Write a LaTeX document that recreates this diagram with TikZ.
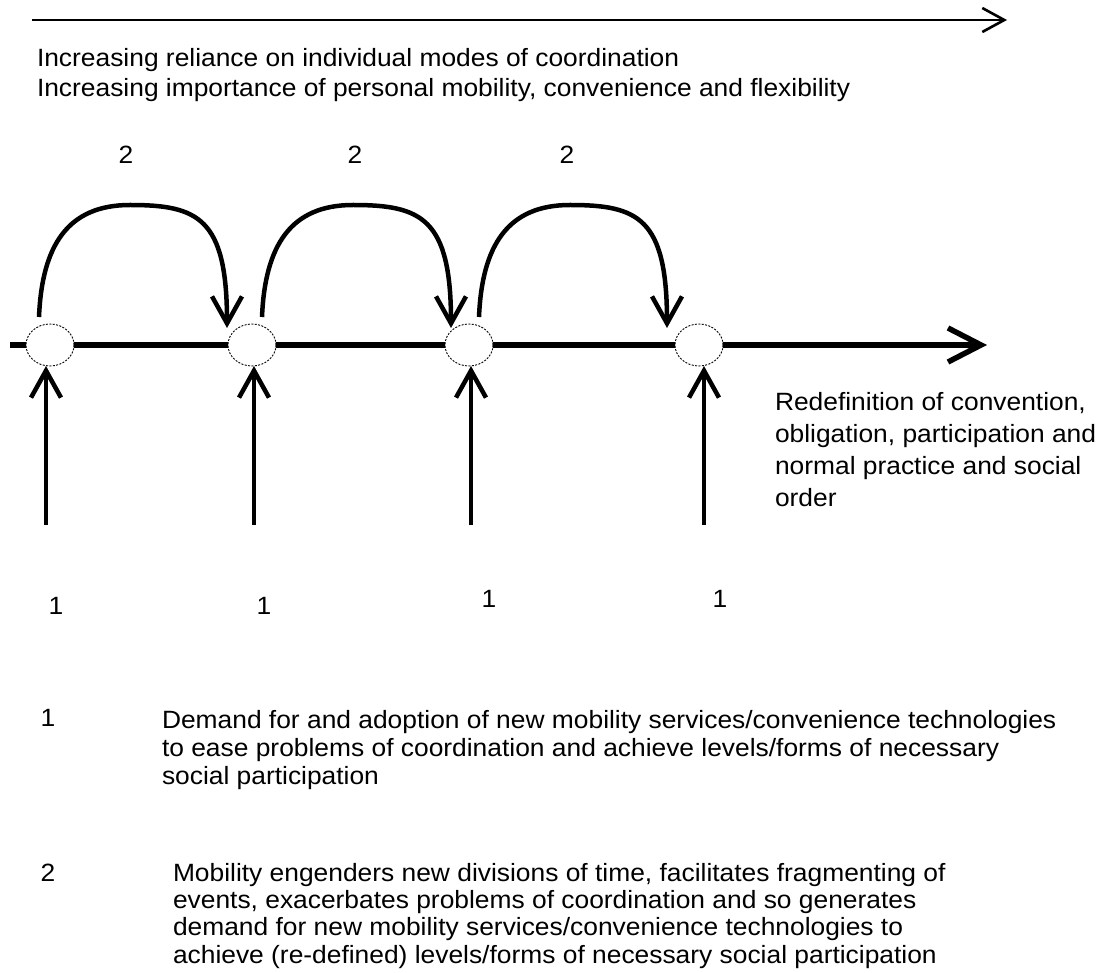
\documentclass[tikz,border=0pt]{standalone}
\usepackage{fontspec}
\setmainfont{Liberation Sans}[FakeStretch=1.055]
\usetikzlibrary{arrows.meta,shapes.geometric}
\begin{document}
\begin{tikzpicture}[x=1pt,y=-1pt,
  every node/.style={inner sep=0pt,outer sep=0pt},
  txt/.style={anchor=base west,align=left,font=\fontsize{25}{#1}\selectfont},
  num/.style={anchor=center,font=\fontsize{25}{28}\selectfont},
  topline/.style={line width=2.6pt,-{Straight Barb[length=22pt,width=24pt]}},
  mainline/.style={line width=5.5pt,-{Straight Barb[length=33pt,width=34pt]}},
  heavy/.style={line width=4.5pt,-{Straight Barb[length=27pt,width=30pt]}},
  stage/.style={ellipse,draw,fill=white,line width=0.9pt,dash pattern=on 2pt off 1.4pt,
                minimum width=48pt,minimum height=42pt}
]
\fill[white] (0,0) rectangle (1103,973);
\useasboundingbox (0,0) rectangle (1103,973);

% top arrow and its captions
\coordinate (ta) at (32,20);
\coordinate (tb) at (1007,20);
\draw[topline] (ta) -- (tb);
\node[txt=30] (toptext) at (37,97) {Increasing reliance on individual modes of coordination\\Increasing importance of personal mobility, convenience and flexibility};

% main time line
\coordinate (la) at (10,345);
\coordinate (lb) at (987,345);
\draw[mainline] (la) -- (lb);

\node[stage] (e1) at (50,345) {};
\node[stage] (e2) at (252,345) {};
\node[stage] (e3) at (469,345) {};
\node[stage] (e4) at (699,345) {};

% arcs (2)
\coordinate (s1) at (39,317);  \coordinate (m1) at (130,205); \coordinate (t1) at (227,328);
\coordinate (s2) at (262,317); \coordinate (m2) at (353,205); \coordinate (t2) at (451,328);
\coordinate (s3) at (479,317); \coordinate (m3) at (570,205); \coordinate (t3) at (667,328);
\draw[heavy] (s1) .. controls +(3,-72) and +(-62,0) .. (m1) .. controls +(68,0) and +(0,-110) .. (t1);
\draw[heavy] (s2) .. controls +(3,-72) and +(-62,0) .. (m2) .. controls +(68,0) and +(0,-110) .. (t2);
\draw[heavy] (s3) .. controls +(3,-72) and +(-62,0) .. (m3) .. controls +(68,0) and +(0,-110) .. (t3);

\node[num] (n2a) at (126,155) {2};
\node[num] (n2b) at (355,155) {2};
\node[num] (n2c) at (567,155) {2};

% vertical arrows (1)
\coordinate (b1) at (46,525);
\coordinate (b2) at (254,525);
\coordinate (b3) at (471,525);
\coordinate (b4) at (704,525);
\draw[heavy] (b1) -- (b1 |- e1.south);
\draw[heavy] (b2) -- (b2 |- e2.south);
\draw[heavy] (b3) -- (b3 |- e3.south);
\draw[heavy] (b4) -- (b4 |- e4.south);

\node[num] (n1a) at (56,606) {1};
\node[num] (n1b) at (264,606) {1};
\node[num] (n1c) at (489,599) {1};
\node[num] (n1d) at (720,599) {1};

% outcome
\node[txt=31.7] (outcome) at (775,506) {Redefinition of convention,\\obligation, participation and\\normal practice and social\\order};

% legend
\node[num] (k1) at (48,718) {1};
\node[txt=28] (k1text) at (162,784) {Demand for and adoption of new mobility services/convenience technologies\\to ease problems of coordination and achieve levels/forms of necessary\\social participation};
\node[num] (k2) at (48,873) {2};
\node[txt=27.3] (k2text) at (173,963) {Mobility engenders new divisions of time, facilitates fragmenting of\\events, exacerbates problems of coordination and so generates\\demand for new mobility services/convenience technologies to\\achieve (re-defined) levels/forms of necessary social participation};
\end{tikzpicture}
\end{document}
